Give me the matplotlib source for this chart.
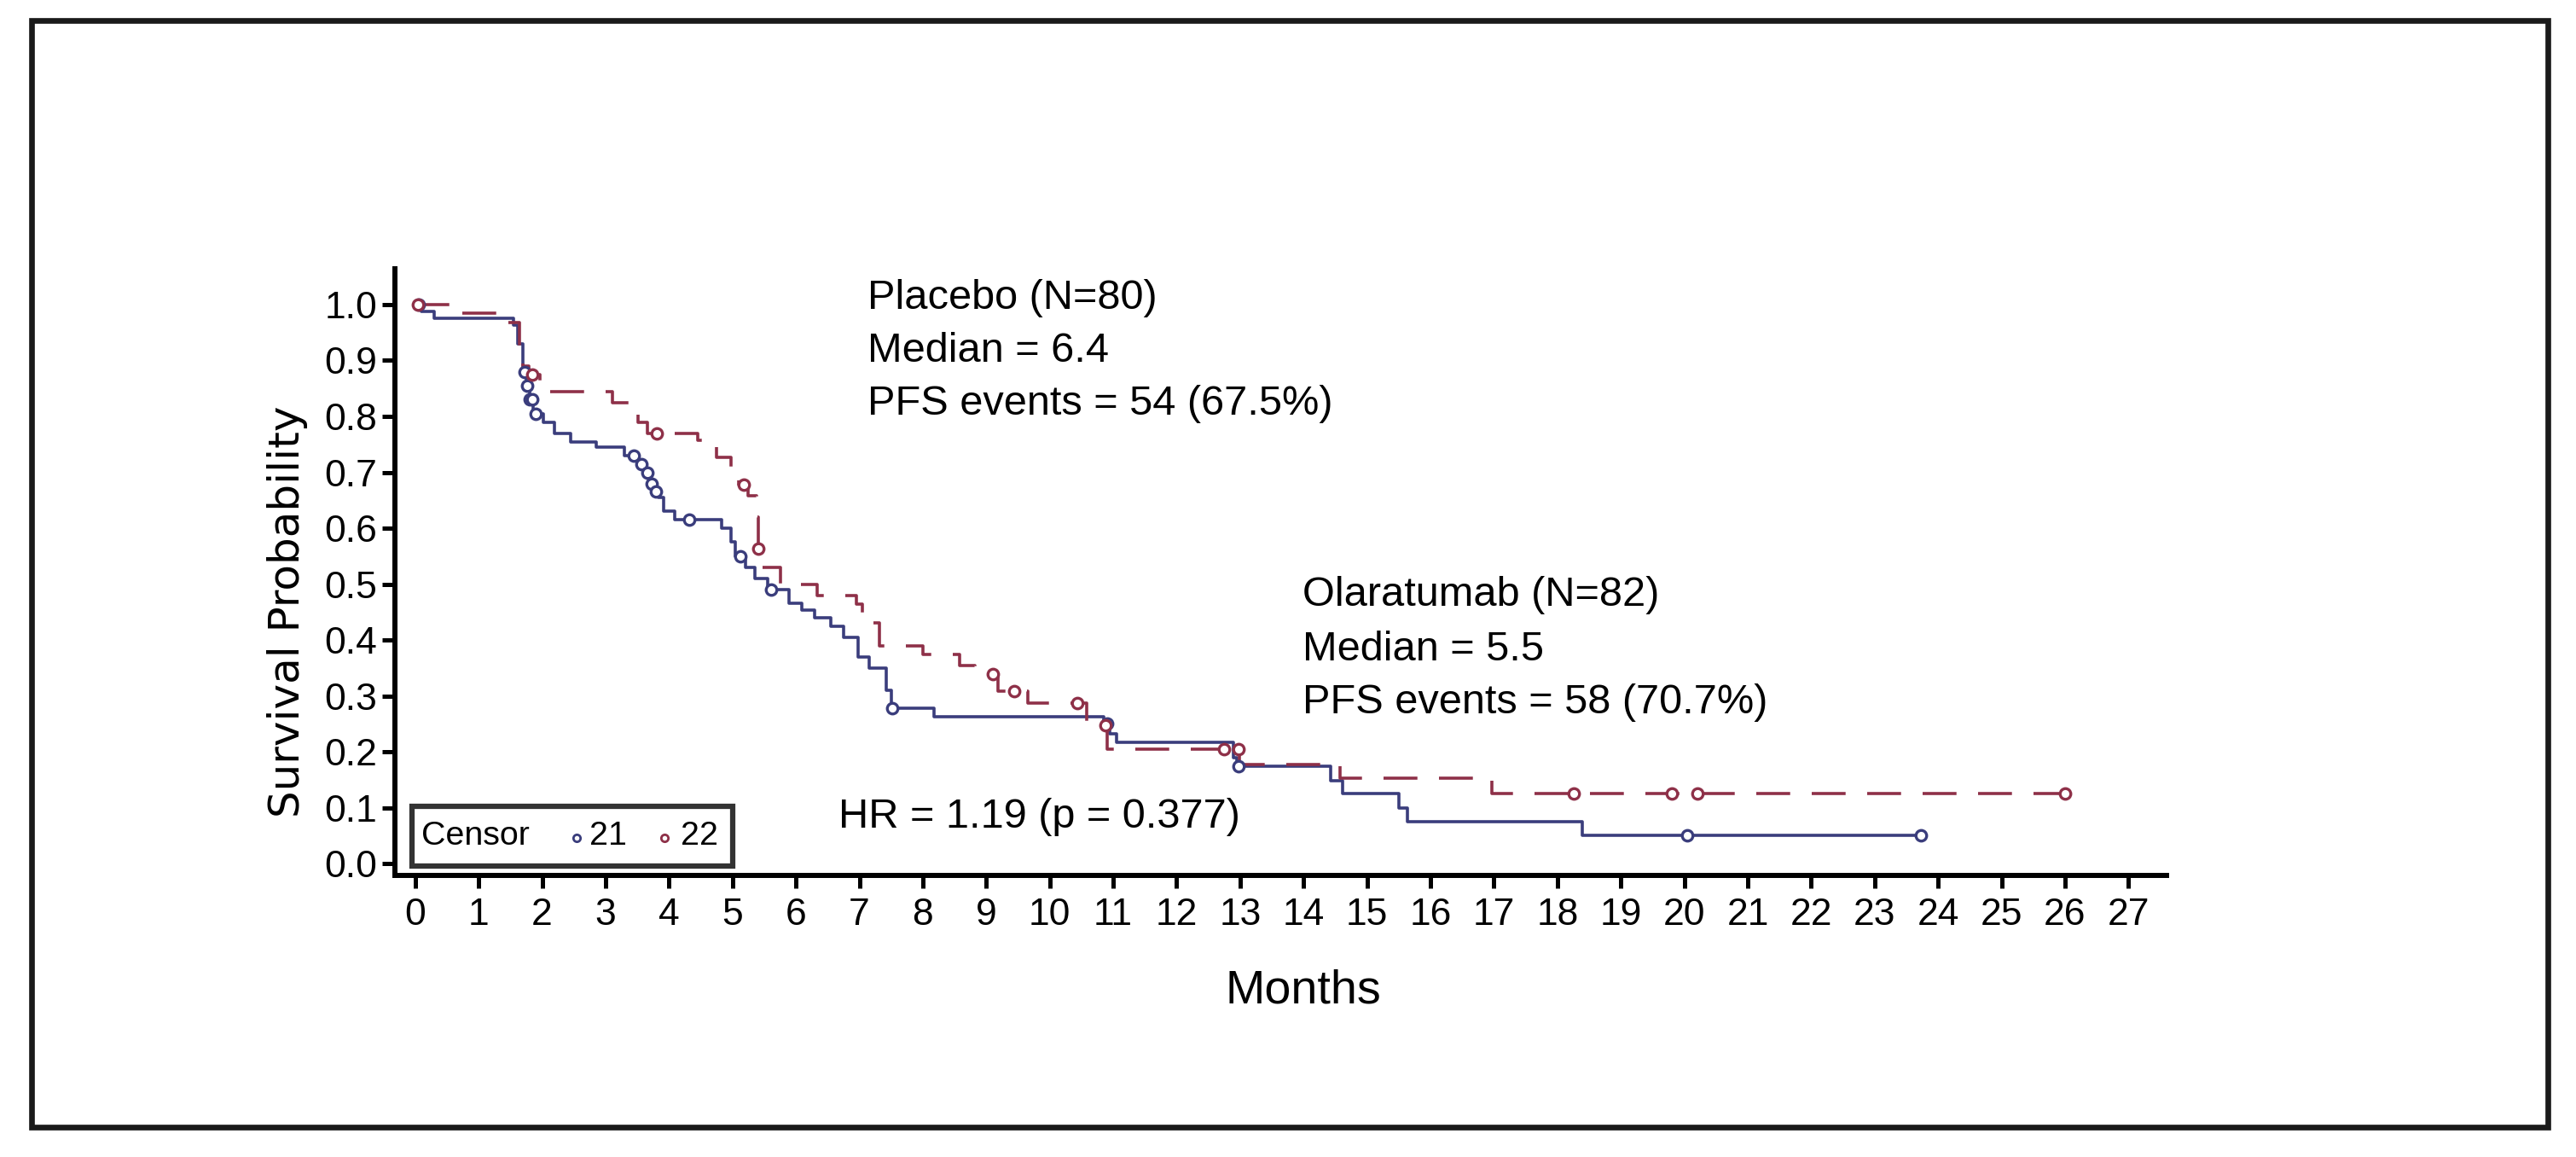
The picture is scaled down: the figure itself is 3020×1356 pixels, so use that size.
import numpy as np
import matplotlib
matplotlib.use('Agg')
import matplotlib.pyplot as plt
from matplotlib import font_manager
from matplotlib.patches import Rectangle
from matplotlib.lines import Line2D

# narrow font for the annotations if it exists, otherwise shrink the regular one
names = {f.name for f in font_manager.fontManager.ttflist}
if 'Liberation Sans Narrow' in names:
    ANN_FONT, k = 'Liberation Sans Narrow', 1.0
else:
    ANN_FONT, k = 'Liberation Sans', 0.835
plt.rcParams['font.family'] = ['Liberation Sans', 'DejaVu Sans']

# Olaratumab arm (blue, solid): step times / survival after each step
olar_t = [0, 0.10, 0.30, 1.55, 1.62, 1.70, 1.75, 1.80, 1.86, 2.02, 2.20, 2.45, 2.85,
          3.30, 3.50, 3.60, 3.68, 3.76, 3.84, 3.92, 4.09, 4.83, 4.98, 5.05, 5.20, 5.35,
          5.55, 5.89, 6.09, 6.30, 6.55, 6.75, 6.98, 7.15, 7.42, 7.50, 8.18, 10.85, 10.95,
          11.05, 12.90, 12.95, 14.43, 14.61, 15.50, 15.64, 18.39]
olar_s = [1.0, 0.988, 0.975, 0.963, 0.93, 0.88, 0.855, 0.83, 0.805, 0.79, 0.77, 0.754, 0.745,
          0.73, 0.715, 0.70, 0.68, 0.665, 0.655, 0.63, 0.615, 0.60, 0.575, 0.55, 0.53, 0.51,
          0.49, 0.466, 0.453, 0.44, 0.425, 0.405, 0.37, 0.35, 0.31, 0.278, 0.263, 0.25, 0.232,
          0.217, 0.19, 0.174, 0.148, 0.125, 0.10, 0.075, 0.05]
olar_end = 23.73
olar_cens = [0.05, 1.72, 1.76, 1.80, 1.84, 1.90, 3.45, 3.56, 3.66, 3.72, 3.80, 4.32, 5.13,
             5.61, 7.52, 10.90, 12.97, 20.04, 23.73]

# Placebo arm (red, dashed)
plac_t = [0, 0.70, 1.34, 1.64, 1.69, 1.79, 1.97, 2.12, 3.11, 3.36, 3.51, 3.66, 4.45, 4.75,
          4.98, 5.10, 5.25, 5.38, 5.40, 5.45, 5.76, 6.34, 6.95, 7.05, 7.31, 8.00, 8.58, 8.82,
          9.18, 9.65, 10.58, 10.90, 12.99, 14.58, 16.97]
plac_s = [1.0, 0.984, 0.968, 0.925, 0.89, 0.875, 0.86, 0.845, 0.825, 0.804, 0.79, 0.77, 0.758,
          0.727, 0.696, 0.678, 0.658, 0.62, 0.563, 0.53, 0.50, 0.48, 0.464, 0.43, 0.389, 0.374,
          0.354, 0.339, 0.308, 0.288, 0.247, 0.205, 0.178, 0.153, 0.125]
plac_end = 26.0
plac_cens = [0.04, 1.85, 3.81, 5.18, 5.40, 9.10, 9.44, 10.43, 10.88, 12.74, 12.97, 18.26,
             19.80, 20.20, 26.0]

plac_text = ['Placebo (N=80)', 'Median = 6.4', 'PFS events = 54 (67.5%)']
olar_text = ['Olaratumab (N=82)', 'Median = 5.5', 'PFS events = 58 (70.7%)']
hr_text = 'HR = 1.19 (p = 0.377)'
x_ticks = list(range(0, 28))
y_ticks = [0.0, 0.1, 0.2, 0.3, 0.4, 0.5, 0.6, 0.7, 0.8, 0.9, 1.0]

BLUE = '#3a3d7c'
RED = '#8e3048'

W, H = 3020, 1356
def fx(px):
    return px / W
def fy(py):
    return 1 - py / H

def surv_at(t, s, tc):
    i = np.searchsorted(np.array(t), tc, side='right') - 1
    return np.array(s)[i]

fig = plt.figure(figsize=(W / 100, H / 100), dpi=100)

# outer frame
fig.add_artist(Rectangle((fx(37), fy(1321)), fx(2987) - fx(37), fy(24) - fy(1321),
                         transform=fig.transFigure, fill=False, lw=4.8, ec='#1a1a1a'))

ax = fig.add_axes([fx(463), fy(1026), fx(2540) - fx(463), fy(315) - fy(1026)])
ax.set_xlim(-0.32, 27.6)
ax.set_ylim(-0.021, 1.064)

ax.step(olar_t + [olar_end], olar_s + [olar_s[-1]], where='post', color=BLUE, lw=2.6)
ax.step(plac_t + [plac_end], plac_s + [plac_s[-1]], where='post', color=RED, lw=2.6,
        dashes=(11, 7))

ax.plot(olar_cens, surv_at(olar_t, olar_s, olar_cens), 'o', ms=9, mfc='white', mec=BLUE,
        mew=2.4, ls='none')
ax.plot(plac_cens, surv_at(plac_t, plac_s, plac_cens), 'o', ms=9, mfc='white', mec=RED,
        mew=2.4, ls='none')

for side in ['top', 'right']:
    ax.spines[side].set_visible(False)
for side in ['left', 'bottom']:
    ax.spines[side].set_linewidth(4.3)
ax.set_xticks(x_ticks)
ax.set_yticks(y_ticks)
ax.set_yticklabels(['%.1f' % v for v in y_ticks])
ax.tick_params(direction='out', length=11, width=3.6, labelsize=32, pad=4)
ax.tick_params(axis='x', pad=8)

fig.text(fx(337), fy(717), 'Survival Probability', rotation=90, ha='center', va='center',
         fontsize=36, family='DejaVu Sans')
fig.text(fx(1528), fy(1162), 'Months', ha='center', va='center', fontsize=48 * k,
         family=ANN_FONT)

for i, line in enumerate(plac_text):
    fig.text(fx(1017), fy([349, 412, 474][i]), line, ha='left', va='center',
             fontsize=42 * k, family=ANN_FONT)
for i, line in enumerate(olar_text):
    fig.text(fx(1527), fy([697, 761, 823][i]), line, ha='left', va='center',
             fontsize=42 * k, family=ANN_FONT)
fig.text(fx(983), fy(958), hr_text, ha='left', va='center', fontsize=42 * k, family=ANN_FONT)

# censor legend box
fig.add_artist(Rectangle((fx(483), fy(1015)), fx(859) - fx(483), fy(945) - fy(1015),
                         transform=fig.transFigure, fc='white', lw=4.5, ec='#333333', zorder=5))
fig.text(fx(494), fy(980), 'Censor', ha='left', va='center', fontsize=34 * k,
         family=ANN_FONT, zorder=6)
fig.add_artist(Line2D([fx(676)], [fy(982)], marker='o', ms=6, mfc='white', mec=BLUE, mew=2,
                      transform=fig.transFigure, zorder=6))
fig.text(fx(691), fy(980), '21', ha='left', va='center', fontsize=34 * k,
         family=ANN_FONT, zorder=6)
fig.add_artist(Line2D([fx(779)], [fy(982)], marker='o', ms=6, mfc='white', mec=RED, mew=2,
                      transform=fig.transFigure, zorder=6))
fig.text(fx(798), fy(980), '22', ha='left', va='center', fontsize=34 * k,
         family=ANN_FONT, zorder=6)

fig.savefig('out.png', dpi=100)
